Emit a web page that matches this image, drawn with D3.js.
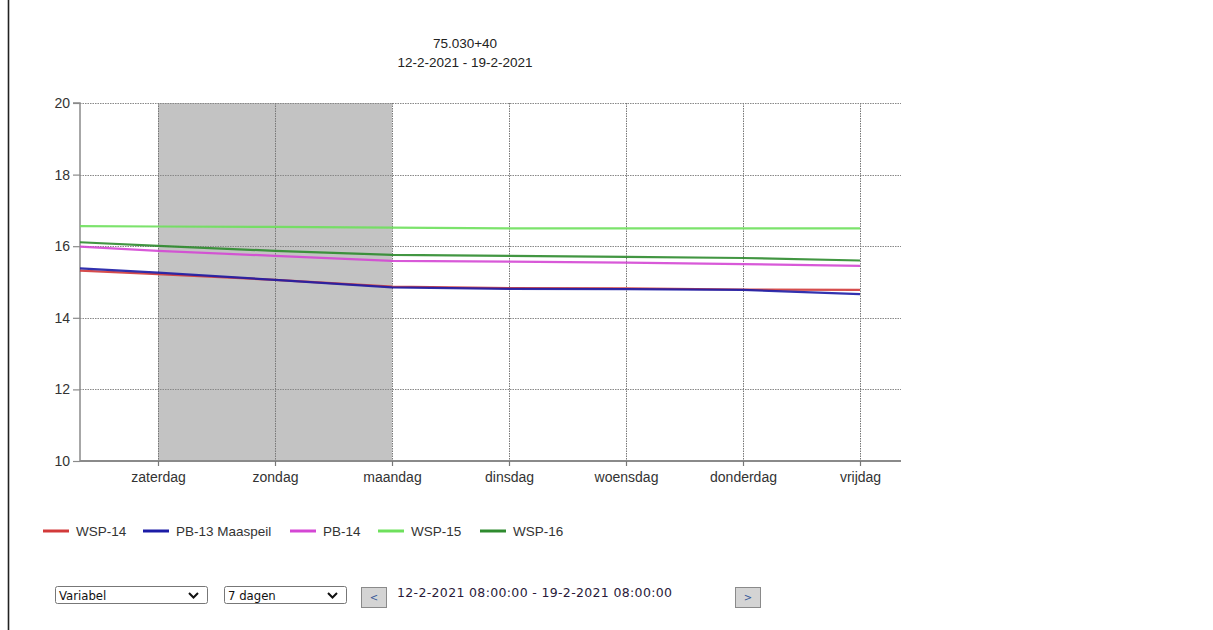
<!DOCTYPE html>
<html>
<head>
<meta charset="utf-8">
<script src="https://cdn.jsdelivr.net/npm/d3@7"></script>
<style>
  html, body { margin: 0; padding: 0; background: #fff; }
  svg { display: block; }
</style>
</head>
<body>
<svg id="chart" width="1213" height="630"></svg>
<script>
// ---- data ----
const titleLines = ["75.030+40", "12-2-2021 - 19-2-2021"];
const dayLabels = ["zaterdag", "zondag", "maandag", "dinsdag", "woensdag", "donderdag", "vrijdag"];
const dayTimes = ["2021-02-13T00:00", "2021-02-14T00:00", "2021-02-15T00:00", "2021-02-16T00:00", "2021-02-17T00:00", "2021-02-18T00:00", "2021-02-19T00:00"];
const periodStart = "2021-02-12T08:00";
const periodEnd = "2021-02-19T08:00";
const weekendStart = "2021-02-13T00:00";
const weekendEnd = "2021-02-15T00:00";
const sampleTimes = ["2021-02-12T08:00", "2021-02-13T00:00", "2021-02-14T00:00", "2021-02-15T00:00", "2021-02-16T00:00", "2021-02-17T00:00", "2021-02-18T00:00", "2021-02-19T00:00"];
const seriesNames = ["WSP-14", "PB-13 Maaspeil", "PB-14", "WSP-15", "WSP-16"];
const seriesColors = ["#d23a3a", "#1c1ca6", "#d447d4", "#6ee05c", "#2e8b2e"];
const wsp14 = [15.32, 15.22, 15.06, 14.87, 14.83, 14.82, 14.79, 14.78];
const pb13 = [15.38, 15.26, 15.06, 14.85, 14.81, 14.80, 14.78, 14.66];
const pb14 = [15.99, 15.87, 15.73, 15.59, 15.57, 15.54, 15.50, 15.45];
const wsp15 = [16.56, 16.55, 16.54, 16.52, 16.50, 16.50, 16.50, 16.50];
const wsp16 = [16.11, 16.01, 15.87, 15.76, 15.73, 15.70, 15.67, 15.60];
const seriesValues = [wsp14, pb13, pb14, wsp15, wsp16];
const yTicks = [10, 12, 14, 16, 18, 20];
const selectLabels = ["Variabel", "7 dagen"];
const rangeText = "12-2-2021 08:00:00 - 19-2-2021 08:00:00";

// ---- drawing ----
const parse = d3.timeParse("%Y-%m-%dT%H:%M");
const svg = d3.select("#chart");
const pLeft = 80, pRight = 899, pTop = 103, pBottom = 461;

const x = d3.scaleTime().domain([parse(periodStart), parse(periodEnd)]).range([pLeft, pRight]);
const y = d3.scaleLinear().domain([10, 20]).range([pBottom, pTop]);

// page left border
svg.append("line").attr("x1", 8.5).attr("x2", 8.5).attr("y1", 0).attr("y2", 630)
  .attr("stroke", "#222").attr("stroke-width", 1.6);

// title
svg.append("g").selectAll("text").data(titleLines).join("text")
  .attr("x", 465).attr("y", (d, i) => 48 + i * 19)
  .attr("text-anchor", "middle")
  .attr("font-family", "Liberation Sans, Arial, sans-serif")
  .attr("font-size", 13.5).attr("fill", "#222").text(d => d);

// weekend shading
svg.append("rect")
  .attr("x", x(parse(weekendStart))).attr("y", pTop)
  .attr("width", x(parse(weekendEnd)) - x(parse(weekendStart)))
  .attr("height", pBottom - pTop).attr("fill", "#c3c3c3");

// horizontal grid
svg.append("g").selectAll("line").data(yTicks.filter(t => t > 10)).join("line")
  .attr("x1", pLeft).attr("x2", 901)
  .attr("y1", d => Math.round(y(d)) + 0.5).attr("y2", d => Math.round(y(d)) + 0.5)
  .attr("stroke", "#888").attr("stroke-dasharray", "1.5,1").attr("stroke-width", 1);

// vertical grid
const days = dayTimes.map(parse);
svg.append("g").selectAll("line").data(days).join("line")
  .attr("x1", d => Math.round(x(d)) + 0.5).attr("x2", d => Math.round(x(d)) + 0.5)
  .attr("y1", pTop).attr("y2", pBottom)
  .attr("stroke", "#777").attr("stroke-dasharray", "1.5,1").attr("stroke-width", 1);

// y axis
const yAxis = d3.axisLeft(y).tickValues(yTicks).tickSize(7).tickPadding(3).tickFormat(d3.format("d"));
const gy = svg.append("g").attr("transform", `translate(${pLeft},0)`).call(yAxis);
gy.select(".domain").attr("stroke", "#8a8a8a").attr("stroke-width", 1.5).attr("d", `M-7,${pTop}H0V${pBottom}`);
gy.selectAll(".tick line").attr("stroke", "#8a8a8a").attr("stroke-width", 1.2);
gy.selectAll(".tick text").attr("font-family", "Liberation Sans, Arial, sans-serif")
  .attr("font-size", 14).attr("fill", "#333");

// x axis
const xAxis = d3.axisBottom(x).tickValues(days).tickSize(5).tickPadding(6)
  .tickFormat((d, i) => dayLabels[i]);
const gx = svg.append("g").attr("transform", `translate(0,${pBottom})`).call(xAxis);
gx.select(".domain").attr("stroke", "#8a8a8a").attr("stroke-width", 2).attr("d", `M${pLeft},0H901`);
gx.selectAll(".tick line").attr("stroke", "#777").attr("stroke-width", 1.2);
gx.selectAll(".tick text").attr("font-family", "Liberation Sans, Arial, sans-serif")
  .attr("font-size", 14).attr("fill", "#333");

// lines
const times = sampleTimes.map(parse);
const line = d3.line().x((d, i) => x(times[i])).y(d => y(d));
svg.append("g").selectAll("path").data(seriesValues).join("path")
  .attr("d", d => line(d)).attr("fill", "none")
  .attr("stroke", (d, i) => seriesColors[i]).attr("stroke-width", 2.2)
  .attr("stroke-opacity", 0.9);

// legend
const legendX = [43, 143, 290, 378, 480];
const lg = svg.append("g").selectAll("g").data(seriesNames).join("g")
  .attr("transform", (d, i) => `translate(${legendX[i]},531)`);
lg.append("line").attr("x1", 0).attr("x2", 26).attr("y1", 0).attr("y2", 0)
  .attr("stroke", (d, i) => seriesColors[i]).attr("stroke-width", 3);
lg.append("text").attr("x", 33).attr("y", 5)
  .attr("font-family", "Liberation Sans, Arial, sans-serif").attr("font-size", 13.5)
  .attr("fill", "#333").text(d => d);

// controls
const selX = [55, 224], selW = [152, 122];
const sg = svg.append("g").selectAll("g").data(selectLabels).join("g")
  .attr("transform", (d, i) => `translate(${selX[i]},586)`);
sg.append("rect").attr("x", 0.5).attr("y", 0.5).attr("width", (d, i) => selW[i]).attr("height", 17)
  .attr("fill", "#fff").attr("stroke", "#777").attr("rx", 2);
sg.append("text").attr("x", 4).attr("y", 13.5)
  .attr("font-family", "DejaVu Sans Condensed, DejaVu Sans, sans-serif").attr("font-size", 13)
  .attr("fill", "#111").text(d => d);
sg.append("path").attr("d", (d, i) => `M${selW[i] - 18},7 l4.5,4.5 l4.5,-4.5`)
  .attr("fill", "none").attr("stroke", "#111").attr("stroke-width", 2);

const btns = [{x: 361, t: "<"}, {x: 735, t: ">"}];
const bg = svg.append("g").selectAll("g").data(btns).join("g")
  .attr("transform", d => `translate(${d.x},587)`);
bg.append("rect").attr("x", 0.5).attr("y", 0.5).attr("width", 25).attr("height", 20)
  .attr("fill", "#d4d4d4").attr("stroke", "#8a8a8a");
bg.append("text").attr("x", 13).attr("y", 14).attr("text-anchor", "middle")
  .attr("font-family", "DejaVu Sans, sans-serif").attr("font-size", 10)
  .attr("fill", "#3a5a9a").text(d => d.t);

svg.append("text").attr("x", 397).attr("y", 597)
  .attr("font-family", "DejaVu Sans, Verdana, sans-serif").attr("font-size", 12.5)
  .attr("textLength", 275).attr("lengthAdjust", "spacing")
  .attr("fill", "#2a1a3a").text(rangeText);
</script>
</body>
</html>
